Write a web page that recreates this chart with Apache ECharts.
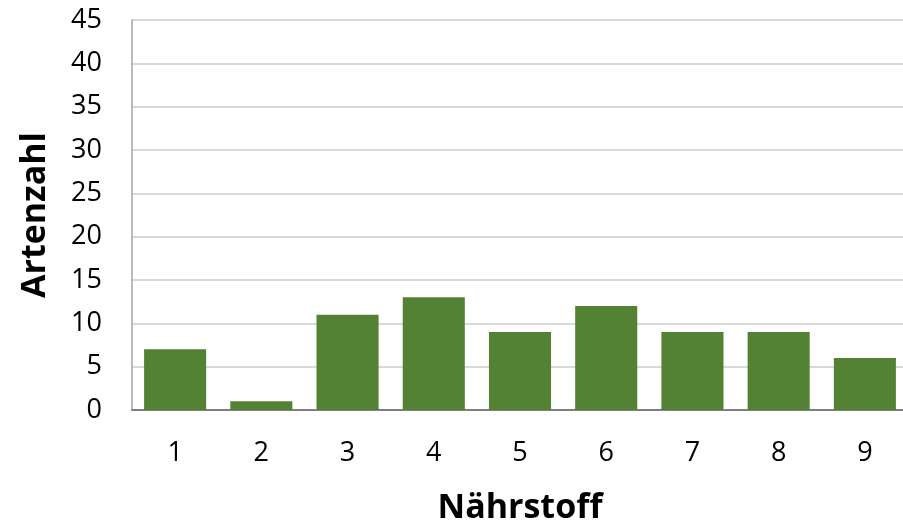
<!DOCTYPE html>
<html><head><meta charset="utf-8">
<script src="https://cdn.jsdelivr.net/npm/echarts@6/dist/echarts.min.js"></script>
<style>html,body{margin:0;padding:0;background:#fff}#c{width:903px;height:524px}</style>
</head><body><div id="c"></div>
<script>
const categories = ['1','2','3','4','5','6','7','8','9'];
const values = [7, 1, 11, 13, 9, 12, 9, 9, 6];
const yTicks = {min: 0, max: 45, interval: 5};
const xTitle = 'Nährstoff';
const yTitle = 'Artenzahl';

const chart = echarts.init(document.getElementById('c'), null, {renderer: 'canvas'});
const font = '"Open Sans", sans-serif';
chart.setOption({
  animation: false,
  grid: {left: 132, right: -5, top: 20, bottom: 114, containLabel: false, outerBoundsMode: 'none'},
  xAxis: {
    type: 'category', data: categories,
    axisLine: {lineStyle: {color: '#7f7f7f', width: 2}},
    axisTick: {show: false},
    axisLabel: {color: '#000', fontSize: 27, fontFamily: font, margin: 30},
    name: xTitle, nameLocation: 'middle', nameGap: 81,
    nameTextStyle: {color: '#000', fontSize: 34, fontWeight: 'bold', fontFamily: font}
  },
  yAxis: {
    type: 'value', min: yTicks.min, max: yTicks.max, interval: yTicks.interval,
    axisLine: {show: true, lineStyle: {color: '#a6a6a6', width: 1.5}},
    axisTick: {show: false},
    splitLine: {lineStyle: {color: '#d9d9d9', width: 2}},
    axisLabel: {color: '#000', fontSize: 27, fontFamily: font, margin: 30},
    name: yTitle, nameLocation: 'middle', nameGap: 80, nameRotate: 90,
    nameTextStyle: {color: '#000', fontSize: 34, fontWeight: 'bold', fontFamily: font}
  },
  series: [{
    type: 'bar', data: values, barCategoryGap: '28%',
    itemStyle: {color: '#548235'}
  }]
});
</script></body></html>
